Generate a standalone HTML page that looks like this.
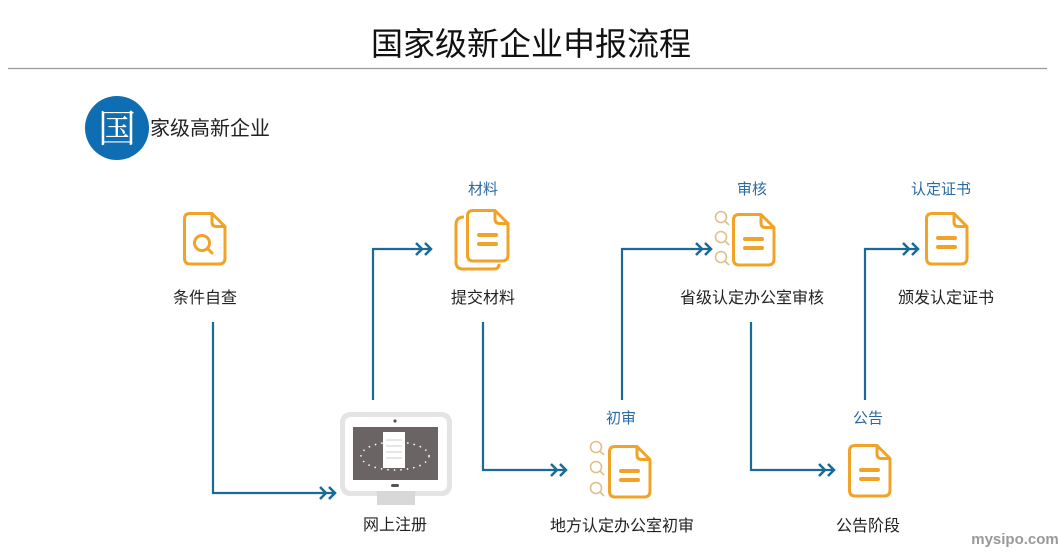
<!DOCTYPE html>
<html><head><meta charset="utf-8"><style>
html,body{margin:0;padding:0;background:#fff;}
svg{display:block;}
text{font-family:"Liberation Sans","Noto Sans CJK SC",sans-serif;}
</style></head><body>
<svg width="1059" height="553" viewBox="0 0 1059 553" xmlns="http://www.w3.org/2000/svg">
<defs>
<g id="doc" fill="none" stroke="#f0a328" stroke-width="3" stroke-linejoin="round">
  <path d="M7,1.5 H29 L42,14.5 V46 Q42,52 36,52 H7 Q1.5,52 1.5,46 V7 Q1.5,1.5 7,1.5 Z" fill="#fff"/>
  <path d="M29,1.5 V10 Q29,14.5 33.5,14.5 H42"/>
</g>
<g id="eq" stroke="#f0a328" stroke-width="4" stroke-linecap="round">
  <line x1="13" y1="26" x2="30" y2="26"/><line x1="13" y1="35" x2="30" y2="35"/>
</g>
<g id="mag" fill="none" stroke="#e0c08a" stroke-width="1.6">
  <circle cx="6" cy="6" r="5.5"/><line x1="10" y1="10" x2="14" y2="14"/>
</g>
<g id="arr" fill="none" stroke="#1a6a98" stroke-width="2.5" stroke-linejoin="miter">
  <path d="M-16,-6 L-10,0 L-16,6"/><path d="M-7,-6 L-1,0 L-7,6"/>
</g>
</defs>

<text x="531" y="55" font-size="32" text-anchor="middle" fill="#111">国家级新企业申报流程</text>
<line x1="8" y1="68.5" x2="1047" y2="68.5" stroke="#999" stroke-width="1.2"/>

<circle cx="117" cy="128" r="32" fill="#0f6db3"/>
<text x="117" y="142" font-size="38" text-anchor="middle" fill="#fff" style="font-family:'Liberation Serif','Noto Serif CJK SC',serif">国</text>
<text x="150" y="135" font-size="20" fill="#222">家级高新企业</text>

<g fill="none" stroke="#1a6a98" stroke-width="2.2">
  <path d="M213,322 V493 H334"/>
  <path d="M373,400 V249 H430"/>
  <path d="M483,322 V470 H565"/>
  <path d="M622,400 V249 H710"/>
  <path d="M751,322 V470 H833"/>
  <path d="M865,400 V249 H917"/>
</g>
<use href="#arr" x="336" y="493"/>
<use href="#arr" x="432" y="249"/>
<use href="#arr" x="567" y="470"/>
<use href="#arr" x="712" y="249"/>
<use href="#arr" x="835" y="470"/>
<use href="#arr" x="919" y="249"/>

<use href="#doc" x="183" y="212"/>
<g fill="none" stroke="#f0a328" stroke-width="3"><circle cx="202" cy="243" r="7.5"/><line x1="207.5" y1="248.5" x2="212" y2="253" stroke-linecap="round"/></g>
<text x="205" y="303" font-size="16" text-anchor="middle" fill="#222">条件自查</text>

<text x="483" y="194" font-size="15" text-anchor="middle" fill="#2a6aa0">材料</text>
<path d="M464,217 Q456,217 456,225 V262 Q456,269 463,269 H494 Q499,269 499,264" fill="none" stroke="#f0a328" stroke-width="3"/>
<use href="#doc" x="466" y="209"/>
<use href="#eq" x="466" y="209"/>
<text x="483" y="303" font-size="16" text-anchor="middle" fill="#222">提交材料</text>

<rect x="340" y="412" width="112" height="84" rx="10" fill="#e4e4e4"/>
<rect x="345" y="417" width="102" height="74" rx="6" fill="#fff"/>
<rect x="377" y="491" width="38" height="14" fill="#d8d8d8"/>
<rect x="353" y="427" width="85" height="53" fill="#6a6464"/>
<circle cx="395" cy="421" r="1.6" fill="#555"/>
<rect x="391" y="484" width="8" height="3" rx="1.5" fill="#555"/>
<ellipse cx="395" cy="456" rx="34" ry="14" fill="none" stroke="#fff" stroke-width="1.5" stroke-dasharray="1.5 5"/>
<rect x="383" y="432" width="22" height="36" fill="#fff"/>
<g stroke="#ccc" stroke-width="1"><line x1="386" y1="440" x2="402" y2="440"/><line x1="386" y1="446" x2="402" y2="446"/><line x1="386" y1="452" x2="402" y2="452"/><line x1="386" y1="458" x2="402" y2="458"/></g>
<text x="395" y="530" font-size="16" text-anchor="middle" fill="#222">网上注册</text>

<text x="621" y="423" font-size="15" text-anchor="middle" fill="#2a6aa0">初审</text>
<use href="#mag" x="590" y="441"/><use href="#mag" x="590" y="461"/><use href="#mag" x="590" y="482"/>
<use href="#doc" x="608" y="445"/><use href="#eq" x="608" y="445"/>
<text x="622" y="531" font-size="16" text-anchor="middle" fill="#222">地方认定办公室初审</text>

<text x="752" y="194" font-size="15" text-anchor="middle" fill="#2a6aa0">审核</text>
<use href="#mag" x="715" y="211"/><use href="#mag" x="715" y="231"/><use href="#mag" x="715" y="251"/>
<use href="#doc" x="732" y="213"/><use href="#eq" x="732" y="213"/>
<text x="752" y="303" font-size="16" text-anchor="middle" fill="#222">省级认定办公室审核</text>

<text x="868" y="423" font-size="15" text-anchor="middle" fill="#2a6aa0">公告</text>
<use href="#doc" x="848" y="444"/><use href="#eq" x="848" y="444"/>
<text x="868" y="531" font-size="16" text-anchor="middle" fill="#222">公告阶段</text>

<text x="941" y="194" font-size="15" text-anchor="middle" fill="#2a6aa0">认定证书</text>
<use href="#doc" x="925" y="212"/><use href="#eq" x="925" y="212"/>
<text x="946" y="303" font-size="16" text-anchor="middle" fill="#222">颁发认定证书</text>

<text x="1015" y="544" font-size="15" font-weight="bold" text-anchor="middle" fill="#999">mysipo.com</text>
</svg>
</body></html>
